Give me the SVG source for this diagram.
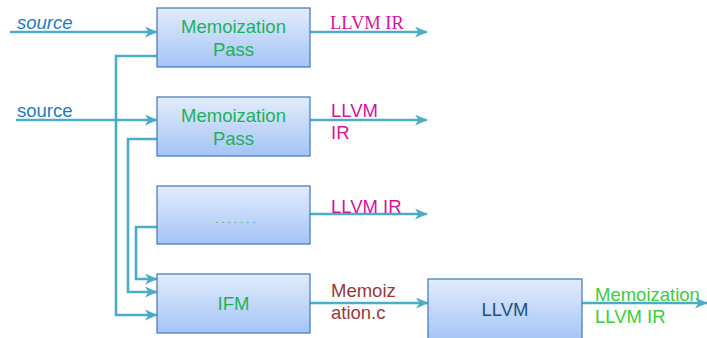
<svg xmlns="http://www.w3.org/2000/svg" width="707" height="338" viewBox="0 0 707 338">
  <defs>
    <linearGradient id="boxFill" x1="0" y1="0" x2="0" y2="1">
      <stop offset="0" stop-color="#e2ecfc"/>
      <stop offset="1" stop-color="#a4c4f6"/>
    </linearGradient>
    <marker id="arrow" markerWidth="13" markerHeight="11" refX="12" refY="5.5" orient="auto" markerUnits="userSpaceOnUse">
      <path d="M0,0 L12.5,5.5 L0,11 L3.5,5.5 Z" fill="#4bacc6"/>
    </marker>
    <style>
      .box { fill: url(#boxFill); stroke: #4a7ebf; stroke-width: 1.3; }
      .wire { fill: none; stroke: #4bacc6; stroke-width: 2.6; }
      .arr { marker-end: url(#arrow); }
      .sans { font-family: "Liberation Sans", Arial, sans-serif; font-size: 18.5px; }
      .serif { font-family: "Liberation Serif", "Times New Roman", serif; font-size: 18.5px; }
      .pass { fill: #1db25a; }
      .ir { fill: #d4149c; }
      .src { fill: #1f78c4; }
      .cfile { fill: #96393a; }
      .llvm { fill: #264f80; }
      .out { fill: #3ccc3c; }
    </style>
  </defs>

  <!-- connectors -->
  <g id="connectors">
    <path class="wire arr" d="M10,32 H157"/>
    <path class="wire arr" d="M16,120 H157"/>
    <path class="wire arr" d="M310,32 H427"/>
    <path class="wire arr" d="M310,120 H427"/>
    <path class="wire arr" d="M310,214 H427"/>
    <path class="wire arr" d="M310,303 H428"/>
    <path class="wire arr" d="M582,303 H707"/>
    <!-- feedback into IFM -->
    <path class="wire arr" d="M157,56 H116 V315 H157"/>
    <path class="wire arr" d="M157,139 H128 V292 H157"/>
    <path class="wire arr" d="M157,227 H136 V279 H157"/>
  </g>

  <!-- nodes -->
  <g id="pass1">
    <rect class="box" x="157" y="8" width="153" height="59"/>
    <text class="sans pass" x="233.5" y="33" text-anchor="middle">Memoization</text>
    <text class="sans pass" x="233.5" y="56" text-anchor="middle">Pass</text>
  </g>
  <g id="pass2">
    <rect class="box" x="157" y="97" width="153" height="59"/>
    <text class="sans pass" x="233.5" y="122" text-anchor="middle">Memoization</text>
    <text class="sans pass" x="233.5" y="145" text-anchor="middle">Pass</text>
  </g>
  <g id="passN">
    <rect class="box" x="157" y="186" width="153" height="58"/>
    <text x="215" y="223" style="font-family: 'Liberation Sans', Arial, sans-serif; font-size: 11px; letter-spacing: 3.2px;" class="pass">.......</text>
  </g>
  <g id="ifm">
    <rect class="box" x="157" y="274" width="153" height="59"/>
    <text class="sans pass" x="233.5" y="310" text-anchor="middle">IFM</text>
  </g>
  <g id="llvm">
    <rect class="box" x="428" y="279" width="154" height="62"/>
    <text class="sans llvm" x="505" y="316" text-anchor="middle">LLVM</text>
  </g>

  <!-- labels -->
  <g id="labels">
    <text class="sans src" x="17" y="29" font-style="italic">source</text>
    <text class="sans src" x="17" y="117">source</text>
    <text class="serif ir" x="330" y="29">LLVM IR</text>
    <text class="sans ir" x="331" y="117">LLVM</text>
    <text class="sans ir" x="331" y="139">IR</text>
    <text class="sans ir" x="331" y="213">LLVM IR</text>
    <text class="sans cfile" x="331" y="297">Memoiz</text>
    <text class="sans cfile" x="331" y="319">ation.c</text>
    <text class="sans out" x="595" y="301">Memoization</text>
    <text class="sans out" x="595" y="323">LLVM IR</text>
  </g>
</svg>
